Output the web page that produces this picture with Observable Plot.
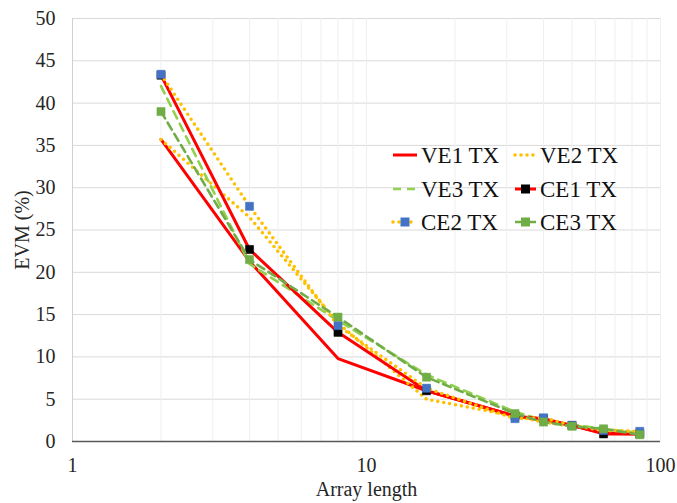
<!DOCTYPE html>
<html>
<head>
<meta charset="utf-8">
<script src="https://cdn.jsdelivr.net/npm/d3@7"></script>
<script src="https://cdn.jsdelivr.net/npm/@observablehq/plot@0.6"></script>
<style>
  html, body { margin: 0; padding: 0; background: #fff; }
  #chart { position: relative; width: 677px; height: 503px; }
</style>
</head>
<body>
<div id="chart"></div>
<script>
// Array lengths (x) and EVM (%) per series
const arrayLength = [2, 4, 8, 16, 32, 40, 50, 64, 85];
const ve1 = [35.7, 21.3, 9.8, 6.0, 3.0, 2.5, 1.9, 1.0, 0.9];
const ve2 = [35.7, 26.5, 14.0, 5.0, 3.0, 2.3, 1.8, 1.4, 1.1];
const ve3 = [42.0, 21.0, 14.3, 7.9, 3.5, 2.5, 2.0, 1.5, 1.0];
const ce1 = [43.3, 22.7, 12.9, 6.0, 3.0, 2.7, 1.9, 0.9, 0.9];
const ce2 = [43.4, 27.8, 13.7, 6.3, 2.7, 2.8, 1.9, 1.3, 1.2];
const ce3 = [39.0, 21.5, 14.7, 7.6, 3.3, 2.3, 1.8, 1.5, 0.8];
const seriesNames = ["VE1 TX", "VE2 TX", "VE3 TX", "CE1 TX", "CE2 TX", "CE3 TX"];
const yTicks = [0, 5, 10, 15, 20, 25, 30, 35, 40, 45, 50];
const xTicks = [1, 10, 100];
const xGrid = [2, 3, 4, 5, 6, 7, 8, 9, 10, 20, 30, 40, 50, 60, 70, 80, 90, 100];

const values = [ve1, ve2, ve3, ce1, ce2, ce3];
const table = seriesNames.flatMap((s, i) => arrayLength.map((x, j) => ({series: s, x, y: values[i][j]})));
const of = s => table.filter(d => d.series === s);

const styles = {
  "VE1 TX": {line: {stroke: "#FF0000", strokeWidth: 3}},
  "VE2 TX": {line: {stroke: "#FFC000", strokeWidth: 3.6, strokeDasharray: "0,6", strokeLinecap: "round"}},
  "VE3 TX": {line: {stroke: "#92D050", strokeWidth: 2.6, strokeDasharray: "8,6"}},
  "CE1 TX": {line: {stroke: "#FF0000", strokeWidth: 3}, marker: "#000000"},
  "CE2 TX": {line: {stroke: "#FFC000", strokeWidth: 3.6, strokeDasharray: "0,6", strokeLinecap: "round"}, marker: "#4472C4"},
  "CE3 TX": {line: {stroke: "#70AD47", strokeWidth: 2.6, strokeDasharray: "8,5"}, marker: "#70AD47"}
};

const marks = [
  Plot.ruleY(yTicks.filter(d => d > 0), {y: d => d, stroke: "#d9d9d9", strokeWidth: 1}),
  Plot.ruleX(xGrid, {x: d => d, stroke: "#efefef", strokeWidth: 1}),
  Plot.ruleX([1], {x: d => d, stroke: "#d0d0d0", strokeWidth: 1}),
  Plot.ruleY([0], {y: d => d, stroke: "#595959", strokeWidth: 1.3})
];
for (const s of seriesNames) {
  const st = styles[s];
  marks.push(Plot.line(of(s), {x: "x", y: "y", ...st.line, strokeLinejoin: "round"}));
  if (st.marker) {
    marks.push(Plot.dot(of(s), {x: "x", y: "y", symbol: "square", r: 4.6, fill: st.marker, stroke: st.marker, strokeWidth: 0.5}));
  }
}
marks.push(
  Plot.axisX({ticks: xTicks, tickFormat: d => String(d), tickSize: 0, tickPadding: 16, fontSize: 20,
    label: "Array length", labelAnchor: "center", labelOffset: 54, labelArrow: "none"}),
  Plot.axisY({ticks: yTicks, tickSize: 0, tickPadding: 17, fontSize: 20,
    label: "EVM (%)", labelAnchor: "center", labelOffset: 58, labelArrow: "none"})
);

const chart = Plot.plot({
  width: 677,
  height: 503,
  marginLeft: 72,
  marginRight: 17,
  marginTop: 18,
  marginBottom: 62,
  style: {fontFamily: "'Liberation Serif', 'DejaVu Serif', serif", fontSize: "20px", color: "#262626", background: "#fff"},
  x: {type: "log", domain: [1, 100]},
  y: {domain: [0, 50]},
  marks
});
document.getElementById("chart").appendChild(chart);

// Legend (inside the plot area, two columns)
const svg = d3.select(chart);
const g = svg.append("g").attr("font-family", "'Liberation Serif', serif").attr("font-size", 23)
  .attr("fill", "#111").attr("text-anchor", "start");
const cols = [393, 515];
const rows = [155, 189, 222];
seriesNames.forEach((s, i) => {
  const cx = cols[i % 2], cy = rows[Math.floor(i / 2)];
  const st = styles[s];
  const len = i % 2 === 0 ? 24 : 21;
  g.append("line").attr("x1", cx).attr("x2", cx + len).attr("y1", cy).attr("y2", cy)
    .attr("stroke", st.line.stroke).attr("stroke-width", st.line.strokeWidth)
    .attr("stroke-dasharray", st.line.strokeDasharray || null)
    .attr("stroke-linecap", st.line.strokeLinecap || "butt");
  if (st.marker) {
    g.append("rect").attr("x", cx + len / 2 - 4.5).attr("y", cy - 4.5).attr("width", 9).attr("height", 9).attr("fill", st.marker);
  }
  g.append("text").attr("x", cx + len + 4).attr("y", cy).attr("dy", "0.35em").attr("text-anchor", "start").text(s);
});
</script>
</body>
</html>
